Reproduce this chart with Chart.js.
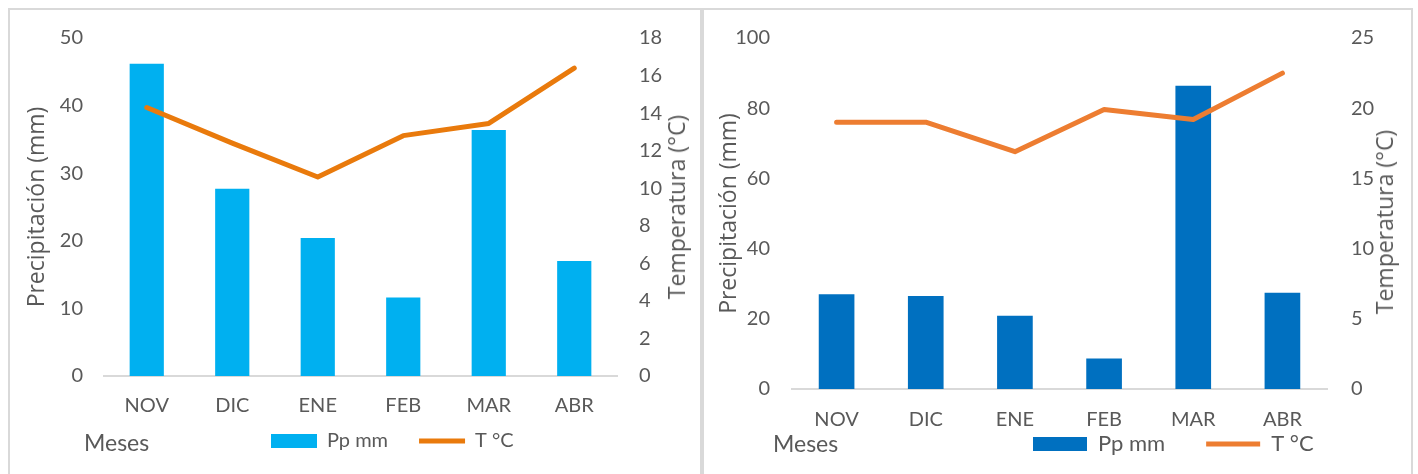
<!DOCTYPE html>
<html>
<head>
<meta charset="utf-8">
<script src="https://cdn.jsdelivr.net/npm/chart.js@4"></script>
<style>
  html, body { margin: 0; padding: 0; background: #ffffff; overflow: hidden; }
  body { width: 1418px; height: 474px; position: relative; }
  .panel { position: absolute; box-sizing: border-box; border: 2px solid #d9d9d9; background: #fff; }
  .panel canvas { position: absolute; left: 0; top: 0; }
  .rtitle { position: absolute; font-family: 'Open Sans', sans-serif; font-size: 23px; line-height: 28px;
            color: #595959; white-space: nowrap; transform: translate(-50%, -50%) rotate(-90deg); }
  .xtitle { position: absolute; font-family: 'Lato', sans-serif; font-size: 23px; line-height: 23px; color: #595959; white-space: nowrap; }
</style>
</head>
<body>
<div class="panel" id="p1" style="left:8px; top:8px; width:694px; height:480px;">
  <canvas id="c1" width="690" height="464"></canvas>
</div>
<div class="panel" id="p2" style="left:702px; top:8px; width:711px; height:480px;">
  <canvas id="c2" width="707" height="464"></canvas>
</div>
<div class="rtitle" style="left:676px; top:207px;">Temperatura (°C)</div>
<div class="rtitle" style="left:1384px; top:222px;">Temperatura (°C)</div>
<div class="xtitle" style="left:84px; top:431px;">Meses</div>
<div class="xtitle" style="left:773px; top:432px;">Meses</div>
<script>
// ---- data ----
const categories = ['NOV', 'DIC', 'ENE', 'FEB', 'MAR', 'ABR'];
const ppLeft  = [46.2, 27.7, 20.4, 11.6, 36.4, 17.0];
const tLeft   = [14.3, 12.4, 10.6, 12.8, 13.45, 16.4];
const ppRight = [27.0, 26.5, 20.9, 8.7, 86.4, 27.4];
const tRight  = [19.0, 19.0, 16.9, 19.9, 19.2, 22.5];
const ppTicksLeft  = [0, 10, 20, 30, 40, 50];
const tTicksLeft   = [0, 2, 4, 6, 8, 10, 12, 14, 16, 18];
const ppTicksRight = [0, 20, 40, 60, 80, 100];
const tTicksRight  = [0, 5, 10, 15, 20, 25];
const ppLabel = 'Pp mm';
const tLabel = 'T °C';
const yTitle = 'Precipitación (mm)';

const TEXT = '#595959';

const placeLegend = {
  id: 'placeLegend',
  afterLayout(chart, args, opts) {
    const lg = chart.legend;
    if (!lg || opts.x == null) return;
    const w = lg.width;
    const h = opts.pad + opts.font + 10;
    lg.left = opts.x; lg.right = opts.x + w;
    lg.top = opts.y; lg.bottom = opts.y + h; lg.height = h;
  }
};

function makeChart(id, cfg) {
  const fixed = (v) => (scale) => { scale.ticks = v.map(x => ({ value: x })); };
  return new Chart(document.getElementById(id), {
    type: 'bar',
    plugins: [placeLegend],
    data: {
      labels: categories,
      datasets: [
        {
          type: 'bar', label: ppLabel, data: cfg.pp, yAxisID: 'y',
          backgroundColor: cfg.barColor, borderWidth: 0,
          barPercentage: 0.4, categoryPercentage: 1.0, order: 1, pointStyle: 'rect'
        },
        {
          type: 'line', label: tLabel, data: cfg.t, yAxisID: 'y1',
          borderColor: cfg.lineColor, backgroundColor: cfg.lineColor, borderWidth: 5,
          borderCapStyle: 'round', borderJoinStyle: 'round',
          pointRadius: 0, tension: 0, order: 0, pointStyle: 'line'
        }
      ]
    },
    options: {
      responsive: false,
      animation: false,
      layout: { padding: { top: 28, left: 0, right: 0, bottom: 0 } },
      plugins: {
        tooltip: { enabled: false },
        placeLegend: { x: cfg.legendX, y: cfg.legendY, pad: cfg.legendPad, font: cfg.legendFont },
        legend: {
          position: 'bottom', align: 'start', maxHeight: 20,
          labels: {
            usePointStyle: true, pointStyleWidth: cfg.boxW, boxWidth: cfg.boxW, boxHeight: 14,
            padding: cfg.legendPad, color: TEXT,
            font: { family: 'Lato', size: cfg.legendFont },
            sort: (a, b) => a.datasetIndex - b.datasetIndex
          }
        }
      },
      scales: {
        x: {
          grid: { display: false, drawTicks: false },
          border: { display: true, color: '#d9d9d9', width: 2 },
          ticks: { color: TEXT, font: { family: 'Lato', size: 20 }, padding: cfg.xPad, maxRotation: 0 },
          afterFit: (s) => { s.height = cfg.xH; }
        },
        y: {
          position: 'left', min: cfg.ppTicks[0], max: cfg.ppTicks[cfg.ppTicks.length - 1],
          afterBuildTicks: fixed(cfg.ppTicks),
          grid: { display: false, drawTicks: true, tickLength: cfg.yPad }, border: { display: false },
          ticks: { color: TEXT, font: { family: 'Lato', size: 20 }, padding: 0 },
          title: { display: true, text: yTitle, color: TEXT, font: { family: 'Open Sans', size: 23 }, padding: { top: cfg.titlePad, bottom: 0 } },
          afterFit: (s) => { s.width = cfg.yW; }
        },
        y1: {
          position: 'right', min: cfg.tTicks[0], max: cfg.tTicks[cfg.tTicks.length - 1],
          afterBuildTicks: fixed(cfg.tTicks),
          grid: { display: false, drawTicks: true, tickLength: cfg.y1Pad }, border: { display: false },
          ticks: { color: TEXT, font: { family: 'Lato', size: 20 }, padding: 0 },
          afterFit: (s) => { s.width = cfg.y1W; }
        }
      }
    }
  });
}

makeChart('c1', {
  pp: ppLeft, t: tLeft, ppTicks: ppTicksLeft, tTicks: tTicksLeft,
  barColor: '#00B0F0', lineColor: '#E97A0C',
  yW: 94, y1W: 83, xH: 78, xPad: 18, yPad: 21, y1Pad: 22, titlePad: 14,
  legendX: 230, legendY: 390, legendPad: 31, legendFont: 20, boxW: 46
});
makeChart('c2', {
  pp: ppRight, t: tRight, ppTicks: ppTicksRight, tTicks: tTicksRight,
  barColor: '#0070C0', lineColor: '#ED7D31',
  yW: 88, y1W: 84, xH: 65, xPad: 19, yPad: 22, y1Pad: 24, titlePad: 12,
  legendX: 288, legendY: 382, legendPad: 41, legendFont: 22, boxW: 54
});
</script>
</body>
</html>
